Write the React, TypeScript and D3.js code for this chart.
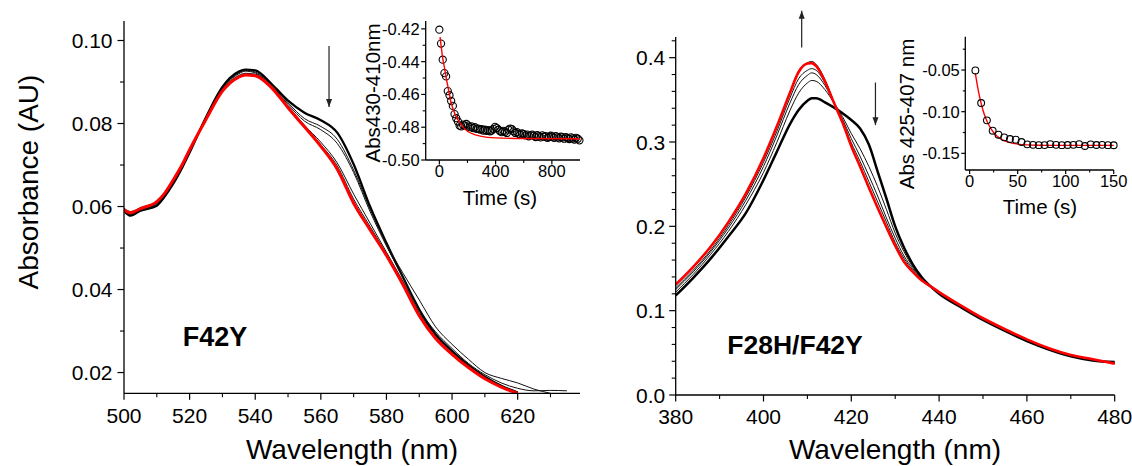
import React from 'react';
import * as d3 from 'd3';

const FONT = '"Liberation Sans", Arial, Helvetica, sans-serif';

// ---------- Left main panel (F42Y) ----------
const LEFT_WL = [500, 502, 505, 510, 512, 515, 518, 520, 525, 530, 535, 537, 540, 545, 550, 555, 560, 565, 570, 575, 580, 585, 590, 595, 600, 605, 610, 615, 620, 625, 630, 635];
const LEFT_INITIAL = [0.059, 0.0578, 0.059, 0.0602, 0.062, 0.0655, 0.0698, 0.073, 0.0815, 0.0888, 0.0925, 0.093, 0.0928, 0.0895, 0.0855, 0.0826, 0.0808, 0.0778, 0.0702, 0.06, 0.0512, 0.043, 0.0352, 0.0292, 0.0252, 0.0218, 0.019, 0.0168, 0.0152];
const LEFT_THIN_A = [0.0596, 0.0588, 0.0597, 0.0612, 0.0629, 0.0664, 0.0706, 0.0738, 0.0815, 0.0885, 0.0922, 0.0928, 0.0924, 0.0893, 0.085, 0.0812, 0.0793, 0.0762, 0.0688, 0.0594, 0.051, 0.044, 0.0375, 0.031, 0.0268, 0.0232, 0.02, 0.0186, 0.0175, 0.016, 0.015];
const LEFT_THIN_B = [0.0594, 0.0585, 0.0593, 0.061, 0.0627, 0.0662, 0.0704, 0.0736, 0.0812, 0.0882, 0.092, 0.0926, 0.0922, 0.089, 0.0846, 0.0806, 0.0785, 0.0752, 0.0682, 0.0588, 0.0505, 0.043, 0.0352, 0.0298, 0.0258, 0.0222, 0.0195, 0.0175, 0.0162, 0.0156, 0.0157, 0.0156];
const LEFT_THIN_C = [0.0591, 0.0582, 0.0591, 0.0608, 0.0625, 0.066, 0.0702, 0.0734, 0.081, 0.088, 0.0916, 0.0921, 0.0919, 0.0888, 0.0842, 0.0796, 0.0755, 0.0705, 0.063, 0.056, 0.049, 0.042, 0.0345, 0.0288, 0.025, 0.0217, 0.019, 0.0168, 0.0153];
const LEFT_THIN_D = [0.0589, 0.058, 0.0589, 0.0606, 0.0623, 0.0658, 0.07, 0.0732, 0.0808, 0.0877, 0.0914, 0.0919, 0.0917, 0.0887, 0.084, 0.0794, 0.0749, 0.0698, 0.0618, 0.0552, 0.0486, 0.0416, 0.0341, 0.0285, 0.0247, 0.0215, 0.0188, 0.0166, 0.0152];
const LEFT_FINAL = [0.0592, 0.0585, 0.0595, 0.0612, 0.0628, 0.0664, 0.0705, 0.0737, 0.081, 0.0878, 0.0912, 0.0917, 0.0915, 0.0886, 0.0838, 0.0792, 0.0745, 0.069, 0.0608, 0.0544, 0.0482, 0.0412, 0.0337, 0.0282, 0.0244, 0.0212, 0.0185, 0.0165, 0.015];
const LEFT_X_TICKS = [500, 520, 540, 560, 580, 600, 620];
const LEFT_X_MINOR = [510, 530, 550, 570, 590, 610, 630];
const LEFT_Y_TICKS = [0.02, 0.04, 0.06, 0.08, 0.10];
const LEFT_Y_MINOR = [0.03, 0.05, 0.07, 0.09];

// ---------- Left inset ----------
const INS1_T = [0, 12, 24, 36, 48, 60, 72, 84, 96, 108, 120, 132, 144, 156, 168, 180, 192, 204, 216, 228, 240, 252, 264, 276, 288, 300, 312, 324, 336, 348, 360, 372, 384, 396, 408, 420, 432, 444, 456, 468, 480, 492, 504, 516, 528, 540, 552, 564, 576, 588, 600, 612, 624, 636, 648, 660, 672, 684, 696, 708, 720, 732, 744, 756, 768, 780, 792, 804, 816, 828, 840, 852, 864, 876, 888, 900, 912, 924, 936, 948, 960, 972, 984, 996];
const INS1_V = [-0.4205, -0.429, -0.4388, -0.447, -0.449, -0.458, -0.4605, -0.464, -0.467, -0.472, -0.4745, -0.4765, -0.479, -0.4795, -0.4785, -0.479, -0.478, -0.479, -0.48, -0.4795, -0.4805, -0.48, -0.481, -0.4808, -0.4815, -0.4812, -0.482, -0.4815, -0.4822, -0.4818, -0.4825, -0.482, -0.481, -0.4798, -0.4805, -0.4815, -0.4825, -0.483, -0.4822, -0.4828, -0.4835, -0.4815, -0.4808, -0.4812, -0.4825, -0.4835, -0.483, -0.484, -0.4845, -0.4838, -0.4842, -0.485, -0.4845, -0.4855, -0.485, -0.4845, -0.4852, -0.486, -0.4848, -0.4855, -0.4862, -0.485, -0.4858, -0.4855, -0.4865, -0.486, -0.4852, -0.4858, -0.4865, -0.4855, -0.4862, -0.4868, -0.4858, -0.4862, -0.487, -0.486, -0.4866, -0.4872, -0.4862, -0.4868, -0.4875, -0.4865, -0.487, -0.488];
const INS1_FIT_T = [5, 15, 25, 35, 50, 65, 85, 100, 120, 140, 160, 200, 250, 300, 400, 600, 1000];
const INS1_FIT_V = [-0.425, -0.432, -0.4385, -0.443, -0.4505, -0.457, -0.4655, -0.4695, -0.4737, -0.4765, -0.479, -0.4825, -0.4845, -0.4856, -0.4865, -0.4869, -0.487];
const INS1_X_TICKS = [0, 400, 800];
const INS1_X_MINOR = [200, 600];
const INS1_Y_TICKS = [-0.5, -0.48, -0.46, -0.44, -0.42];
const INS1_Y_MINOR = [-0.49, -0.47, -0.45, -0.43];

// ---------- Right main panel (F28H/F42Y) ----------
const RIGHT_WL = [380, 384, 388, 392, 396, 400, 403, 406, 408, 410, 411, 412, 414, 416, 418, 420, 422, 424, 426, 428, 430, 432, 434, 436, 438, 440, 445, 450, 455, 460, 465, 470, 475, 480];
const RIGHT_INITIAL = [0.118, 0.139, 0.162, 0.188, 0.216, 0.255, 0.288, 0.321, 0.338, 0.349, 0.352, 0.352, 0.347, 0.341, 0.334, 0.326, 0.316, 0.297, 0.265, 0.233, 0.2, 0.175, 0.155, 0.14, 0.129, 0.12, 0.104, 0.089, 0.076, 0.064, 0.054, 0.046, 0.041, 0.039];
const RIGHT_THIN_1 = [0.122, 0.143, 0.167, 0.194, 0.226, 0.264, 0.299, 0.337, 0.358, 0.37, 0.373, 0.372, 0.362, 0.347, 0.33, 0.31, 0.292, 0.271, 0.247, 0.22, 0.192, 0.17, 0.152, 0.139, 0.129, 0.121, 0.104, 0.089, 0.077, 0.065, 0.055, 0.047, 0.0415, 0.038];
const RIGHT_THIN_2 = [0.125, 0.146, 0.17, 0.198, 0.231, 0.271, 0.307, 0.346, 0.368, 0.379, 0.382, 0.38, 0.367, 0.347, 0.327, 0.304, 0.283, 0.26, 0.236, 0.21, 0.186, 0.165, 0.15, 0.138, 0.129, 0.121, 0.105, 0.09, 0.077, 0.065, 0.055, 0.047, 0.0418, 0.0375];
const RIGHT_THIN_3 = [0.127, 0.148, 0.172, 0.201, 0.235, 0.276, 0.312, 0.352, 0.375, 0.385, 0.387, 0.385, 0.37, 0.347, 0.325, 0.299, 0.277, 0.253, 0.229, 0.205, 0.181, 0.162, 0.148, 0.137, 0.129, 0.121, 0.105, 0.09, 0.077, 0.065, 0.055, 0.047, 0.042, 0.0375];
const RIGHT_THIN_4 = [0.13, 0.151, 0.175, 0.204, 0.238, 0.28, 0.317, 0.358, 0.384, 0.394, 0.3955, 0.392, 0.374, 0.348, 0.323, 0.295, 0.27, 0.245, 0.221, 0.198, 0.176, 0.158, 0.146, 0.136, 0.128, 0.121, 0.105, 0.09, 0.077, 0.065, 0.0545, 0.046, 0.0415, 0.038];
const RIGHT_FINAL = [0.131, 0.152, 0.176, 0.205, 0.239, 0.281, 0.318, 0.358, 0.383, 0.393, 0.3935, 0.39, 0.372, 0.347, 0.323, 0.295, 0.271, 0.246, 0.222, 0.199, 0.177, 0.158, 0.146, 0.136, 0.129, 0.122, 0.106, 0.091, 0.078, 0.066, 0.0555, 0.0475, 0.0425, 0.0372];
const RIGHT_X_TICKS = [380, 400, 420, 440, 460, 480];
const RIGHT_X_MINOR = [390, 410, 430, 450, 470];
const RIGHT_Y_TICKS = [0.0, 0.1, 0.2, 0.3, 0.4];
const RIGHT_Y_MINOR = [0.02, 0.04, 0.06, 0.08, 0.12, 0.14, 0.16, 0.18, 0.22, 0.24, 0.26, 0.28, 0.32, 0.34, 0.36, 0.38, 0.42];

// ---------- Right inset ----------
const INS2_T = [6, 12, 18, 24, 30, 36, 42, 48, 54, 60, 66, 72, 78, 84, 90, 96, 102, 108, 114, 120, 126, 132, 138, 144, 150];
const INS2_V = [-0.0505, -0.0896, -0.1104, -0.1228, -0.1276, -0.1308, -0.1328, -0.1336, -0.1364, -0.1392, -0.1398, -0.1402, -0.1401, -0.139, -0.1398, -0.1402, -0.14, -0.1398, -0.139, -0.1412, -0.1392, -0.14, -0.1398, -0.1402, -0.1403];
const INS2_FIT_T = [6, 8, 10, 12, 14, 16, 18, 20, 22, 25, 28, 32, 36, 40, 45, 50, 60, 70, 80, 100, 150];
const INS2_FIT_V = [-0.054, -0.068, -0.08, -0.09, -0.0985, -0.1055, -0.1112, -0.116, -0.12, -0.125, -0.1288, -0.1323, -0.1348, -0.1366, -0.138, -0.1389, -0.1399, -0.1403, -0.1404, -0.1405, -0.1405];
const INS2_X_TICKS = [0, 50, 100, 150];
const INS2_X_MINOR = [25, 75, 125];
const INS2_Y_TICKS = [-0.15, -0.1, -0.05];
const INS2_Y_MINOR = [-0.125, -0.075, -0.025];

type Scale = d3.ScaleLinear<number, number>;

function pairs(xs: number[], ys: number[]): [number, number][] {
  return ys.map((v, i) => [xs[i], v] as [number, number]);
}

function YAxis(props: { x: Scale; y: Scale; major: number[]; minor: number[]; fmt: (v: number) => string; fs: number; maj: number; min: number; gap: number }) {
  const { x, y, major, minor, fmt, fs, maj, min, gap } = props;
  const x0 = x.range()[0];
  const [yb, yt] = y.range();
  return (
    <g>
      <line x1={x0} x2={x0} y1={yb} y2={yt} stroke="#000" strokeWidth={1.3} />
      {major.map((v) => (
        <g key={'M' + v}>
          <line x1={x0 - maj} x2={x0} y1={y(v)} y2={y(v)} stroke="#000" strokeWidth={1.2} />
          <text x={x0 - maj - gap} y={y(v)} dy="0.36em" textAnchor="end" fontSize={fs} fontFamily={FONT}>{fmt(v)}</text>
        </g>
      ))}
      {minor.map((v) => (
        <line key={'m' + v} x1={x0 - min} x2={x0} y1={y(v)} y2={y(v)} stroke="#000" strokeWidth={1.1} />
      ))}
    </g>
  );
}

function XAxis(props: { x: Scale; y: Scale; major: number[]; minor: number[]; fmt: (v: number) => string; fs: number; maj: number; min: number; off: number }) {
  const { x, y, major, minor, fmt, fs, maj, min, off } = props;
  const y0 = y.range()[0];
  const [xl, xr] = x.range();
  return (
    <g>
      <line x1={xl} x2={xr} y1={y0} y2={y0} stroke="#000" strokeWidth={1.3} />
      {major.map((v) => (
        <g key={'M' + v}>
          <line x1={x(v)} x2={x(v)} y1={y0} y2={y0 + maj} stroke="#000" strokeWidth={1.2} />
          <text x={x(v)} y={y0 + off} textAnchor="middle" fontSize={fs} fontFamily={FONT}>{fmt(v)}</text>
        </g>
      ))}
      {minor.map((v) => (
        <line key={'m' + v} x1={x(v)} x2={x(v)} y1={y0} y2={y0 + min} stroke="#000" strokeWidth={1.1} />
      ))}
    </g>
  );
}

function Arrow(props: { x: number; y1: number; y2: number; up?: boolean }) {
  const { x, y1, y2, up } = props;
  const tip = up ? Math.min(y1, y2) : Math.max(y1, y2);
  const base = up ? tip + 8 : tip - 8;
  return (
    <g>
      <line x1={x} x2={x} y1={y1} y2={y2} stroke="#222" strokeWidth={1.2} />
      <path d={`M${x},${tip} L${x - 3},${base} L${x + 3},${base} Z`} fill="#222" />
    </g>
  );
}

export default function App() {
  const lx = d3.scaleLinear().domain([500, 639]).range([124, 580]);
  const ly = d3.scaleLinear().domain([0.015, 0.1047]).range([393.3, 21]);
  const rx = d3.scaleLinear().domain([380, 480]).range([675.7, 1114.7]);
  const ry = d3.scaleLinear().domain([0, 0.4245]).range([395, 37]);
  const i1x = d3.scaleLinear().domain([-97, 1000]).range([425.7, 580]);
  const i1y = d3.scaleLinear().domain([-0.5, -0.4152]).range([160, 21]);
  const i2x = d3.scaleLinear().domain([-4.5, 150]).range([965.3, 1113.7]);
  const i2y = d3.scaleLinear().domain([-0.17, -0.01]).range([170, 36.7]);

  const lline = d3.line<[number, number]>().x((d) => lx(d[0])).y((d) => ly(d[1])).curve(d3.curveMonotoneX);
  const rline = d3.line<[number, number]>().x((d) => rx(d[0])).y((d) => ry(d[1])).curve(d3.curveMonotoneX);
  const f1 = d3.line<[number, number]>().x((d) => i1x(d[0])).y((d) => i1y(d[1])).curve(d3.curveMonotoneX);
  const f2 = d3.line<[number, number]>().x((d) => i2x(d[0])).y((d) => i2y(d[1])).curve(d3.curveMonotoneX);

  const f2d = (v: number) => v.toFixed(2);
  const f1d = (v: number) => v.toFixed(1);
  const f0 = (v: number) => String(v);

  const leftThin = [LEFT_THIN_A, LEFT_THIN_B, LEFT_THIN_C, LEFT_THIN_D];
  const rightThin = [RIGHT_THIN_1, RIGHT_THIN_2, RIGHT_THIN_3, RIGHT_THIN_4];

  return (
    <svg width={1132} height={466} style={{ position: 'absolute', left: 0, top: 0, background: '#fff' }} fontFamily={FONT}>
      <defs>
        <clipPath id="clipL"><rect x={124} y={0} width={460} height={393.3} /></clipPath>
        <clipPath id="clipR"><rect x={675.7} y={0} width={442} height={395} /></clipPath>
      </defs>
      <rect x={0} y={0} width={1132} height={466} fill="#fff" />

      {/* Left main */}
      <g clipPath="url(#clipL)" fill="none">
        <path d={lline(pairs(LEFT_WL, LEFT_INITIAL)) || ''} stroke="#000" strokeWidth={2.3} />
        {leftThin.map((s, i) => (
          <path key={i} d={lline(pairs(LEFT_WL, s)) || ''} stroke="#111" strokeWidth={1} />
        ))}
        <path d={lline(pairs(LEFT_WL, LEFT_FINAL)) || ''} stroke="#ff0000" strokeWidth={3} />
      </g>
      <YAxis x={lx} y={ly} major={LEFT_Y_TICKS} minor={LEFT_Y_MINOR} fmt={f2d} fs={21} maj={6.5} min={4} gap={5} />
      <XAxis x={lx} y={ly} major={LEFT_X_TICKS} minor={LEFT_X_MINOR} fmt={f0} fs={21} maj={6.5} min={4} off={29.5} />
      <text transform={`translate(38,182) rotate(-90)`} textAnchor="middle" fontSize={28}>Absorbance (AU)</text>
      <text x={352} y={459} textAnchor="middle" fontSize={28}>Wavelength (nm)</text>
      <text x={lx(517.9)} y={ly(0.0264)} fontSize={27} fontWeight="bold">F42Y</text>
      <Arrow x={lx(562.5)} y1={ly(0.0987)} y2={ly(0.084)} />

      {/* Left inset */}
      <YAxis x={i1x} y={i1y} major={INS1_Y_TICKS} minor={INS1_Y_MINOR} fmt={f2d} fs={16.5} maj={4.5} min={3} gap={1.5} />
      <XAxis x={i1x} y={i1y} major={INS1_X_TICKS} minor={INS1_X_MINOR} fmt={f0} fs={16.5} maj={4.5} min={3} off={17} />
      <g fill="none" stroke="#000" strokeWidth={1.1}>
        {INS1_V.map((v, i) => (
          <circle key={i} cx={i1x(INS1_T[i])} cy={i1y(v)} r={3.6} />
        ))}
      </g>
      <path d={f1(pairs(INS1_FIT_T, INS1_FIT_V)) || ''} fill="none" stroke="#ff0000" strokeWidth={1.4} />
      <text transform={`translate(380,93) rotate(-90)`} textAnchor="middle" fontSize={20.5}>Abs430-410nm</text>
      <text x={500} y={205} textAnchor="middle" fontSize={20.5}>Time (s)</text>

      {/* Right main */}
      <g clipPath="url(#clipR)" fill="none">
        <path d={rline(pairs(RIGHT_WL, RIGHT_INITIAL)) || ''} stroke="#000" strokeWidth={2.5} />
        {rightThin.map((s, i) => (
          <path key={i} d={rline(pairs(RIGHT_WL, s)) || ''} stroke="#111" strokeWidth={1} />
        ))}
        <path d={rline(pairs(RIGHT_WL, RIGHT_FINAL)) || ''} stroke="#ff0000" strokeWidth={2.6} />
      </g>
      <YAxis x={rx} y={ry} major={RIGHT_Y_TICKS} minor={RIGHT_Y_MINOR} fmt={f1d} fs={21} maj={6.5} min={4} gap={4} />
      <XAxis x={rx} y={ry} major={RIGHT_X_TICKS} minor={RIGHT_X_MINOR} fmt={f0} fs={21} maj={6.5} min={4} off={28.5} />
      <text x={895} y={459} textAnchor="middle" fontSize={28}>Wavelength (nm)</text>
      <text x={rx(391.75)} y={ry(0.0483)} fontSize={26.5} fontWeight="bold">F28H/F42Y</text>
      <Arrow x={rx(408.7)} y1={ry(0.4555)} y2={ry(0.412)} up />
      <Arrow x={rx(425.5)} y1={ry(0.3705)} y2={ry(0.32)} />

      {/* Right inset */}
      <YAxis x={i2x} y={i2y} major={INS2_Y_TICKS} minor={INS2_Y_MINOR} fmt={f2d} fs={16.5} maj={4} min={2.5} gap={1.5} />
      <XAxis x={i2x} y={i2y} major={INS2_X_TICKS} minor={INS2_X_MINOR} fmt={f0} fs={16.5} maj={4} min={2.5} off={17} />
      <path d={f2(pairs(INS2_FIT_T, INS2_FIT_V)) || ''} fill="none" stroke="#ff0000" strokeWidth={1.4} />
      <g fill="none" stroke="#000" strokeWidth={1.1}>
        {INS2_V.map((v, i) => (
          <circle key={i} cx={i2x(INS2_T[i])} cy={i2y(v)} r={3.4} />
        ))}
      </g>
      <text transform={`translate(914,114) rotate(-90)`} textAnchor="middle" fontSize={20.5}>Abs 425-407 nm</text>
      <text x={1040} y={214} textAnchor="middle" fontSize={20.5}>Time (s)</text>
    </svg>
  );
}
